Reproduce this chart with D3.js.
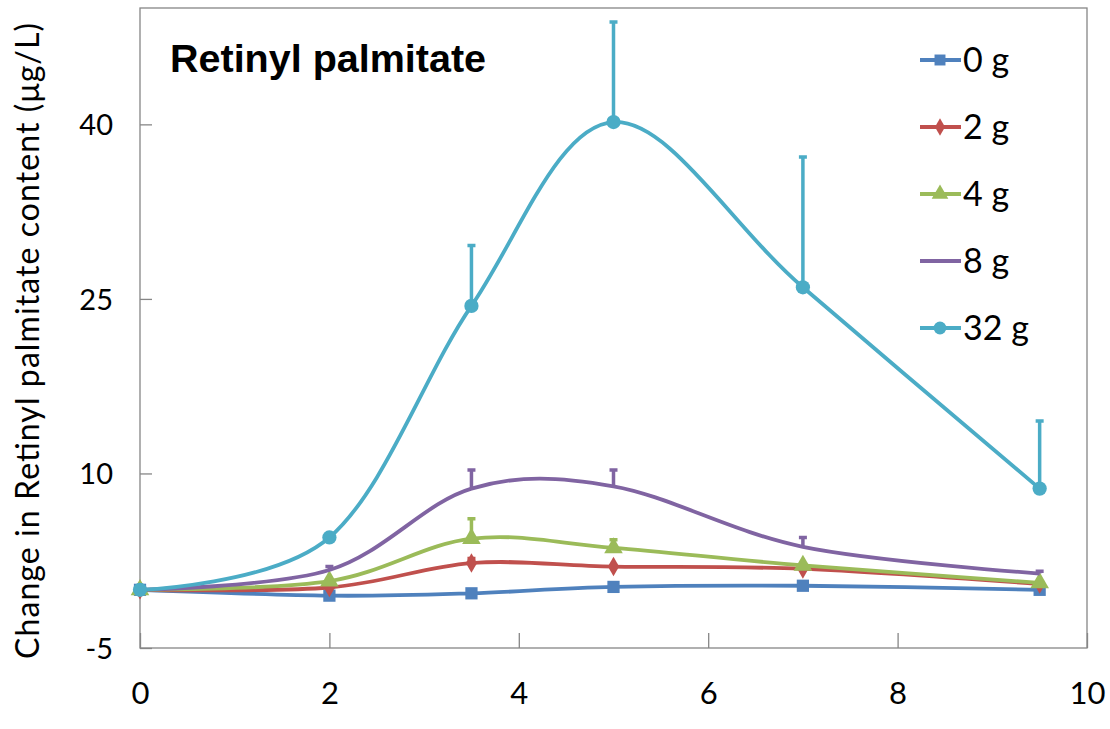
<!DOCTYPE html>
<html>
<head>
<meta charset="utf-8">
<script src="https://cdnjs.cloudflare.com/ajax/libs/d3/7.8.5/d3.min.js"></script>
<style>
	body { margin: 0; background: #fff; }
	text { fill: #000; }
</style>
</head>
<body>
<div id="chart"></div>
<script>
// Data

var times = [0, 2, 3.5, 5, 7, 9.5];
var doses = ['0 g', '2 g', '4 g', '8 g', '32 g'];

var g0  = [0, -0.5, -0.3, 0.25, 0.35, 0.0];
var g2  = [0, 0.2, 2.3, 2.0, 1.8, 0.5];
var g4  = [0, 0.75, 4.4, 3.6, 2.1, 0.6];
var g8  = [0, 1.7, 8.7, 8.9, 3.7, 1.4];
var g32 = [0, 4.5, 24.4, 40.2, 26.0, 8.7];

// upper error bars (SD)
var e0  = [0, 0, 0, 0, 0, 0];
var e2  = [0, 0, 0.4, 0, 0, 0];
var e4  = [0, 0, 1.7, 0.7, 0, 0];
var e8  = [0, 0.3, 1.6, 1.4, 0.8, 0.2];
var e32 = [0, 0, 5.2, 8.6, 11.2, 5.8];

var xTicks = [0, 2, 4, 6, 8, 10];
var yTicks = [-5, 10, 25, 40];

// Config

var width = 1110, height = 729;
var plot = { left: 140, right: 1087, top: 8, bottom: 648 };
var colors = ['#4F81BD', '#C0504D', '#9BBB59', '#8064A2', '#4BACC6'];
var symbols = [d3.symbolSquare, d3.symbolDiamond, d3.symbolTriangle, null, d3.symbolCircle];
var symbolSizes = [150, 110, 150, 0, 160];
var labelFont = 'Lato, "Open Sans", sans-serif';

var seriesValues = [g0, g2, g4, g8, g32];
var seriesErrors = [e0, e2, e4, e8, e32];

var series = doses.map((name, i) => ({
	name: name,
	color: colors[i],
	symbol: symbols[i],
	size: symbolSizes[i],
	points: times.map((t, j) => ({ t: t, v: seriesValues[i][j], e: seriesErrors[i][j] }))
}));

// Setup

var x = d3.scaleLinear().domain([0, 10]).range([plot.left, plot.right]);
var y = d3.scaleLinear().domain([-5, 50]).range([plot.bottom, plot.top]);

var svg = d3.select('#chart').append('svg')
	.attr('width', width)
	.attr('height', height);

// plot frame
svg.append('rect')
	.attr('x', plot.left).attr('y', plot.top)
	.attr('width', plot.right - plot.left).attr('height', plot.bottom - plot.top)
	.attr('fill', 'none').attr('stroke', '#868686').attr('stroke-width', 1.3);

// axes (ticks point inward)
var xAxis = svg.append('g')
	.attr('transform', `translate(0,${plot.bottom})`)
	.call(d3.axisBottom(x).tickValues(xTicks).tickFormat(d => String(d))
		.tickSizeInner(-15).tickSizeOuter(0).tickPadding(34));
var yAxis = svg.append('g')
	.attr('transform', `translate(${plot.left},0)`)
	.call(d3.axisLeft(y).tickValues(yTicks).tickFormat(d => String(d))
		.tickSizeInner(-12).tickSizeOuter(0).tickPadding(27));

[xAxis, yAxis].forEach(ax => {
	ax.select('.domain').remove();
	ax.selectAll('.tick line').attr('stroke', '#868686').attr('stroke-width', 1.3);
	ax.selectAll('.tick text').style('font-family', labelFont).attr('fill', '#000');
});
xAxis.selectAll('.tick text').attr('font-size', 31);
yAxis.selectAll('.tick text').attr('font-size', 29).attr('dy', '0.36em');

// y axis title
svg.append('text')
	.attr('transform', 'translate(39,341) rotate(-90)')
	.attr('text-anchor', 'middle')
	.style('font-family', labelFont)
	.attr('font-size', 32)
	.attr('textLength', 636)
	.attr('lengthAdjust', 'spacing')
	.text('Change in Retinyl palmitate content (μg/L)');

// chart title
svg.append('text')
	.attr('x', 170).attr('y', 72)
	.style('font-family', '"Liberation Sans", Arial, sans-serif')
	.attr('font-weight', 'bold')
	.attr('font-size', 39.5)
	.text('Retinyl palmitate');

// Rendering

var line = d3.line()
	.x(d => x(d.t))
	.y(d => y(d.v))
	.curve(d3.curveCardinal.tension(0));

var groups = svg.selectAll('.series')
	.data(series)
	.enter().append('g')
		.attr('class', 'series');

// error bars (upper only, with caps)
groups.each(function(s) {
	var g = d3.select(this);
	var bars = s.points.filter(p => p.e > 0);
	g.selectAll('.err')
		.data(bars)
		.enter().append('path')
			.attr('class', 'err')
			.attr('d', p => `M${x(p.t)},${y(p.v)}V${y(p.v + p.e)}M${x(p.t) - 4},${y(p.v + p.e)}H${x(p.t) + 4}`)
			.attr('stroke', s.color)
			.attr('stroke-width', 3.5)
			.attr('fill', 'none');
});

groups.append('path')
	.attr('d', s => line(s.points))
	.attr('fill', 'none')
	.attr('stroke', s => s.color)
	.attr('stroke-width', 3.8);

groups.each(function(s) {
	if (!s.symbol) return;
	d3.select(this).selectAll('.marker')
		.data(s.points)
		.enter().append('path')
			.attr('class', 'marker')
			.attr('transform', p => `translate(${x(p.t)},${y(p.v)})`)
			.attr('d', d3.symbol().type(s.symbol).size(s.size))
			.attr('fill', s.color);
});

// legend
var legend = svg.append('g')
	.selectAll('.legend-item')
	.data(series)
	.enter().append('g')
		.attr('class', 'legend-item')
		.attr('transform', (d, i) => `translate(920,${60 + i * 67})`);

legend.append('line')
	.attr('x1', 0).attr('x2', 41)
	.attr('stroke', d => d.color)
	.attr('stroke-width', 3.8);
legend.filter(d => d.symbol).append('path')
	.attr('transform', 'translate(20,0)')
	.attr('d', d => d3.symbol().type(d.symbol).size(d.size * 0.8)())
	.attr('fill', d => d.color);
legend.append('text')
	.attr('x', 43).attr('dy', '0.36em')
	.style('font-family', labelFont)
	.attr('font-size', 34)
	.text(d => d.name);
</script>
</body>
</html>
